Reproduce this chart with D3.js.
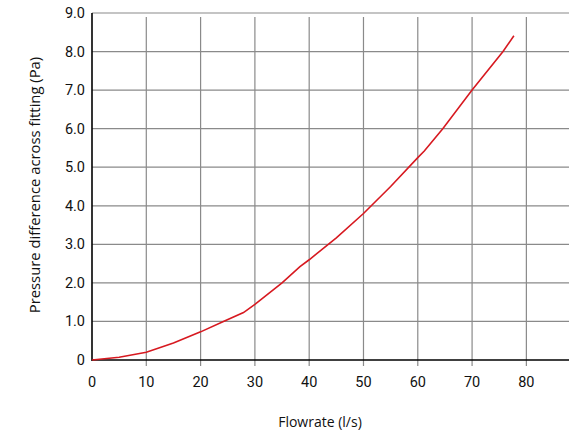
<!DOCTYPE html>
<html><head><meta charset="utf-8">
<script src="https://cdn.jsdelivr.net/npm/d3@7"></script>
<style>body{margin:0;background:#fff}svg{display:block}</style>
</head><body>
<svg id="c" width="569" height="434"></svg>
<script>
const flowrate = [0, 5, 10, 15, 20, 24.2, 27.9, 30, 35, 38.3, 40, 45, 50, 55, 60, 61.2, 64.6, 70, 75.7, 77.7];
const pressure = [0, 0.07, 0.2, 0.44, 0.73, 1.0, 1.23, 1.44, 2.0, 2.42, 2.6, 3.17, 3.8, 4.5, 5.25, 5.42, 6.0, 7.0, 8.0, 8.41];
const xTicks = [0, 10, 20, 30, 40, 50, 60, 70, 80];
const yTicks = [0, 1, 2, 3, 4, 5, 6, 7, 8, 9];
const xLabel = "Flowrate (l/s)";
const yLabel = "Pressure difference across fitting (Pa)";

const svg = d3.select("#c");
const m = {l: 92, r: 0, t: 13, b: 74};
const W = 569, H = 434;
const x = d3.scaleLinear().domain([0, 87.85]).range([m.l, W - m.r]);
const y = d3.scaleLinear().domain([0, 9]).range([H - m.b, m.t]);
const font = "Roboto, 'DejaVu Sans', sans-serif";

// horizontal gridlines
svg.append("g").selectAll("line").data(yTicks.filter(d => d > 0)).join("line")
  .attr("x1", m.l).attr("x2", W).attr("y1", d => y(d)).attr("y2", d => y(d))
  .attr("stroke", "#8a8a8a").attr("stroke-width", 1.2);
// vertical gridlines + ticks
svg.append("g").selectAll("line").data(xTicks.filter(d => d > 0)).join("line")
  .attr("x1", d => x(d)).attr("x2", d => x(d)).attr("y1", y(9) + 4).attr("y2", y(0) + 6)
  .attr("stroke", "#8a8a8a").attr("stroke-width", 1.2);

// axes lines
svg.append("line").attr("x1", m.l).attr("x2", m.l).attr("y1", y(9)).attr("y2", y(0) + 1)
  .attr("stroke", "#000").attr("stroke-width", 1.6);
svg.append("line").attr("x1", m.l).attr("x2", W).attr("y1", y(0)).attr("y2", y(0))
  .attr("stroke", "#000").attr("stroke-width", 1.6);

// y tick labels
svg.append("g").selectAll("text").data(yTicks).join("text")
  .attr("x", m.l - 7).attr("y", d => y(d) + 5)
  .attr("text-anchor", "end").attr("font-family", font).attr("font-size", 14.5).attr("fill", "#111")
  .text(d => d === 0 ? "0" : d.toFixed(1));
// x tick labels
svg.append("g").selectAll("text").data(xTicks).join("text")
  .attr("x", d => x(d)).attr("y", y(0) + 27)
  .attr("text-anchor", "middle").attr("font-family", font).attr("font-size", 14.5).attr("fill", "#111")
  .text(d => d);

// axis titles
svg.append("text").attr("x", 320).attr("y", 427).attr("text-anchor", "middle")
  .attr("font-family", "'Open Sans', sans-serif").attr("font-size", 14).attr("fill", "#111").text(xLabel);
svg.append("text").attr("transform", "translate(40,185) rotate(-90)").attr("text-anchor", "middle")
  .attr("font-family", "'Open Sans', sans-serif").attr("font-size", 14.8).attr("fill", "#111").text(yLabel);

// curve
const pts = flowrate.map((f, i) => [f, pressure[i]]);
svg.append("path").datum(pts)
  .attr("d", d3.line().x(d => x(d[0])).y(d => y(d[1])))
  .attr("fill", "none").attr("stroke", "#d71920").attr("stroke-width", 1.6);
</script>
</body></html>
